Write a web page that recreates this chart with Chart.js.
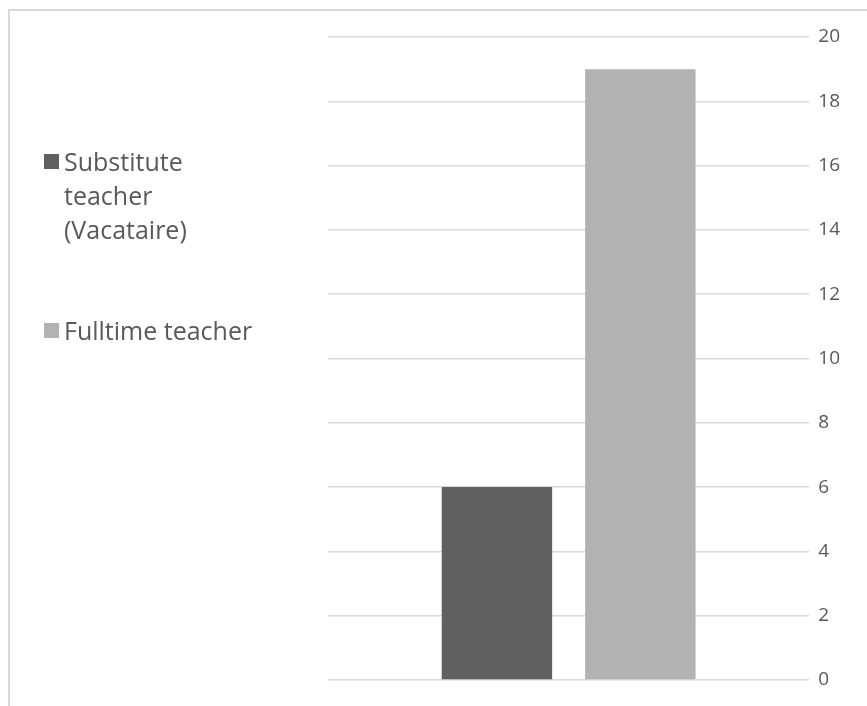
<!DOCTYPE html>
<html>
<head>
<meta charset="utf-8">
<title>Teachers</title>
<script src="https://cdn.jsdelivr.net/npm/chart.js@4.4.1/dist/chart.umd.min.js"></script>
<style>
    html, body { margin: 0; padding: 0; background: #ffffff; overflow: hidden; }
    #wrap { position: relative; width: 867px; height: 706px; }
    #frame {
        position: absolute; left: 8px; top: 9px; width: 900px; height: 750px;
        border: 2px solid #d9d9d9; box-sizing: border-box;
    }
    #chart { position: absolute; left: 0; top: 0; }
    #legend {
        position: absolute; left: 44px; top: 144px; width: 240px;
        font-family: "Open Sans", sans-serif; font-size: 25px; line-height: 34px; color: #595959;
        white-space: nowrap;
    }
    #legend .item { position: relative; padding-left: 20px; margin-bottom: 67px; }
    #legend .box { position: absolute; left: 0; top: 10px; width: 15px; height: 15px; }
</style>
</head>
<body>
<div id="wrap">
    <div id="frame"></div>
    <canvas id="chart" width="867" height="706"></canvas>
    <div id="legend"></div>
</div>
<script>
const categories = ['Teachers'];
const seriesNames = ['Substitute teacher (Vacataire)', 'Fulltime teacher'];
const legendLines = [['Substitute', 'teacher', '(Vacataire)'], ['Fulltime teacher']];
const seriesValues = [[6], [19]];
const seriesColors = ['#606060', '#b2b2b2'];
const yTicks = [0, 2, 4, 6, 8, 10, 12, 14, 16, 18, 20];

const datasets = seriesNames.map(function(name, i) {
    return {
        label: name,
        data: seriesValues[i],
        backgroundColor: seriesColors[i],
        borderWidth: 0,
        categoryPercentage: 0.596,
        barPercentage: 0.77
    };
});

const chart = new Chart(document.getElementById('chart'), {
    type: 'bar',
    data: { labels: categories, datasets: datasets },
    options: {
        responsive: false,
        animation: false,
        layout: { padding: { left: 328, top: 37, bottom: 26, right: 18 } },
        plugins: { legend: { display: false }, tooltip: { enabled: false } },
        scales: {
            x: { display: false },
            y: {
                position: 'right',
                min: yTicks[0],
                max: yTicks[yTicks.length - 1],
                afterBuildTicks: function(axis) {
                    axis.ticks = yTicks.map(function(v) { return { value: v }; });
                },
                border: { display: false },
                grid: { color: '#d9d9d9', lineWidth: 1.5, drawTicks: false },
                ticks: {
                    padding: 9,
                    color: '#595959',
                    font: { family: 'Open Sans', size: 19 }
                }
            }
        }
    }
});

// legend drawn as html so the long label can sit on several lines
const legend = document.getElementById('legend');
chart.data.datasets.forEach(function(ds, i) {
    const item = document.createElement('div');
    item.className = 'item';
    const box = document.createElement('span');
    box.className = 'box';
    box.style.background = ds.backgroundColor;
    item.appendChild(box);
    legendLines[i].forEach(function(line, j) {
        if (j > 0) item.appendChild(document.createElement('br'));
        item.appendChild(document.createTextNode(line));
    });
    legend.appendChild(item);
});
</script>
</body>
</html>
